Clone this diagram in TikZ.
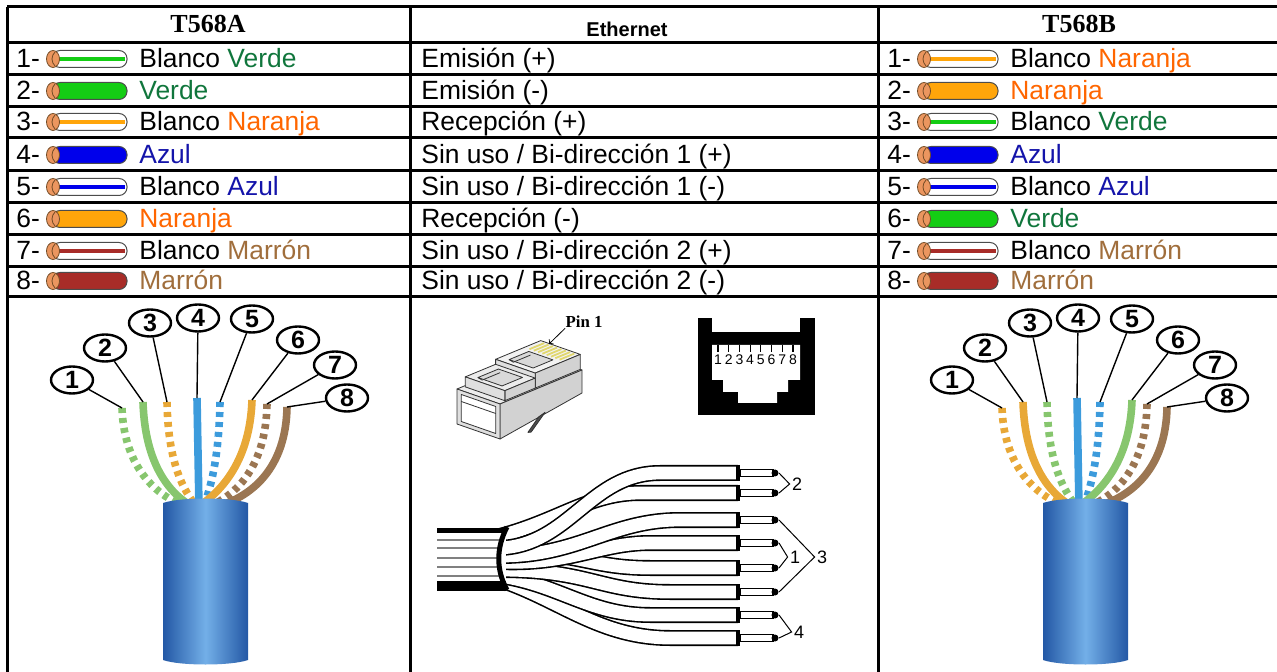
\documentclass[tikz,border=0pt]{standalone}
\usepackage{fontspec}
\setmainfont{Liberation Sans}
\newfontfamily\serifa{Liberation Serif}
\usepackage{tikz}
\usetikzlibrary{shapes.geometric,arrows,calc,positioning}

% colores del texto
\definecolor{verdeT}{RGB}{16,118,60}
\definecolor{naranjaT}{RGB}{255,102,0}
\definecolor{azulT}{RGB}{20,20,170}
\definecolor{marronT}{RGB}{160,110,60}
% colores de los hilos
\definecolor{verdeH}{RGB}{20,205,20}
\definecolor{naranjaH}{RGB}{255,165,10}
\definecolor{azulH}{RGB}{0,0,235}
\definecolor{marronH}{RGB}{168,44,40}
\definecolor{cobreH}{RGB}{235,150,95}
% colores de la foto
\definecolor{fVerde}{RGB}{135,198,110}
\definecolor{fNaranja}{RGB}{232,168,55}
\definecolor{fAzul}{RGB}{60,155,220}
\definecolor{fMarron}{RGB}{155,118,82}
\definecolor{fundaO}{RGB}{35,88,165}
\definecolor{fundaC}{RGB}{115,175,232}
\definecolor{oroC}{RGB}{225,215,110}

\tikzset{
  celda/.style={anchor=base west, inner sep=0pt, font=\fontsize{13.2}{15}\selectfont},
  titulo/.style={inner sep=0pt, font=\serifa\bfseries\fontsize{13}{15}\selectfont},
  tabla/.style={line width=1.5pt},
  hsolido/.style={draw=#1, line width=3.8pt},
  hrayado/.style={draw=white, line width=3.8pt, postaction={draw=#1, line width=3.8pt, dash pattern=on 2.5pt off 2.5pt}},
  etiq/.style={ellipse, draw=black, line width=1.2pt, fill=white, minimum width=21pt, minimum height=13.5pt, inner sep=0pt, font=\bfseries\fontsize{12.5}{12.5}\selectfont},
  guia/.style={line width=0.7pt},
  tubo/.style={draw=black, line width=8pt, postaction={draw=white, line width=6.4pt}},
  plastico/.style={draw=gray!40!black, line width=0.4pt, line join=round},
  par/.style={inner sep=1pt, font=\fontsize{9}{9}\selectfont}
}

% icono de un hilo: x, y, relleno, raya
\newcommand\hilo[4]{%
  \draw[gray!60!black, line width=0.5pt, fill=#3, rounded corners=4pt] (#1+6,#2-8.5) rectangle (#1+81,#2+8.5);
  \fill[#4] (#1+10,#2-1.8) rectangle (#1+79,#2+1.8);
  \draw[brown!60!black, line width=0.4pt, fill=cobreH] (#1+7,#2) ellipse (6.5 and 8.5);
  \draw[brown!60!black, line width=0.4pt] (#1+9,#2-7) .. controls (#1+5,#2-3) and (#1+5,#2+3) .. (#1+9,#2+7);
}

% foto del cable: desplazamiento, color par 2, color par 3, prefijo
\newcommand\cablefoto[4]{%
\begin{scope}[shift={(#1,0)}]
% hilos
\draw[hrayado=#2] (122,408) .. controls (124,470) and (160,500) .. (192,508);
\draw[hrayado=#3] (167,402) .. controls (168,460) and (182,490) .. (198,508);
\draw[hrayado=fAzul] (220,402) .. controls (219,460) and (210,490) .. (203,508);
\draw[hrayado=fMarron] (267,404) .. controls (266,465) and (238,495) .. (206,508);
\draw[hsolido=fMarron] (287,407) .. controls (286,468) and (252,498) .. (212,508);
\draw[hsolido=fAzul] (197,398) -- (199,508);
\draw[hsolido=#2] (143,402) .. controls (145,465) and (170,495) .. (195,508);
\draw[hsolido=#3] (252,400) .. controls (250,460) and (222,492) .. (196,508);
% funda
\shade[left color=fundaO, right color=fundaO, middle color=fundaC] (163,660) -- (163,503) .. controls (180,497) and (231,497) .. (248,503) -- (248,660) .. controls (231,666) and (180,666) .. (163,660) -- cycle;
% numeros
\node[etiq] (#41) at (72,380) {1};
\node[etiq] (#42) at (105,348) {2};
\node[etiq] (#43) at (150,323) {3};
\node[etiq] (#44) at (198,318) {4};
\node[etiq] (#45) at (252,319) {5};
\node[etiq] (#46) at (298,340) {6};
\node[etiq] (#47) at (335,365) {7};
\node[etiq] (#48) at (347,398) {8};
\coordinate (#41h) at (122,408);
\coordinate (#42h) at (143,402);
\coordinate (#43h) at (167,402);
\coordinate (#44h) at (197,398);
\coordinate (#45h) at (220,402);
\coordinate (#46h) at (252,400);
\coordinate (#47h) at (267,404);
\coordinate (#48h) at (287,407);
\foreach \k in {1,...,8} \draw[guia] (#4\k) -- (#4\k h);
\end{scope}}

\begin{document}
\begin{tikzpicture}[x=0.5pt,y=-0.5pt]
\useasboundingbox (0,0) rectangle (1277,672);

% Cabecera
\node[titulo] (hA) at (208,24) {T568A};
\node[inner sep=0pt, font=\bfseries\fontsize{10}{12}\selectfont] (hE) at (627,29) {Ethernet};
\node[titulo] (hB) at (1079,24) {T568B};

% T568A
\node[celda] (a1) at (16,68) {1-};
\hilo{46}{59}{white}{verdeH}
\node[celda] (na1) at (139,68) {Blanco \textcolor{verdeT}{Verde}};
\node[celda] (a2) at (16,100) {2-};
\hilo{46}{91}{verdeH}{verdeH}
\node[celda] (na2) at (139,100) {\textcolor{verdeT}{Verde}};
\node[celda] (a3) at (16,131) {3-};
\hilo{46}{122}{white}{naranjaH}
\node[celda] (na3) at (139,131) {Blanco \textcolor{naranjaT}{Naranja}};
\node[celda] (a4) at (16,164) {4-};
\hilo{46}{155}{azulH}{azulH}
\node[celda] (na4) at (139,164) {\textcolor{azulT}{Azul}};
\node[celda] (a5) at (16,196) {5-};
\hilo{46}{187}{white}{azulH}
\node[celda] (na5) at (139,196) {Blanco \textcolor{azulT}{Azul}};
\node[celda] (a6) at (16,228) {6-};
\hilo{46}{219}{naranjaH}{naranjaH}
\node[celda] (na6) at (139,228) {\textcolor{naranjaT}{Naranja}};
\node[celda] (a7) at (16,260) {7-};
\hilo{46}{251}{white}{marronH}
\node[celda] (na7) at (139,260) {Blanco \textcolor{marronT}{Marrón}};
\node[celda] (a8) at (16,290) {8-};
\hilo{46}{281}{marronH}{marronH}
\node[celda] (na8) at (139,290) {\textcolor{marronT}{Marrón}};

% Ethernet
\node[celda] (e1) at (421,68) {Emisión (+)};
\node[celda] (e2) at (421,100) {Emisión (-)};
\node[celda] (e3) at (421,131) {Recepción (+)};
\node[celda] (e4) at (421,164) {Sin uso / Bi-dirección 1 (+)};
\node[celda] (e5) at (421,196) {Sin uso / Bi-dirección 1 (-)};
\node[celda] (e6) at (421,228) {Recepción (-)};
\node[celda] (e7) at (421,260) {Sin uso / Bi-dirección 2 (+)};
\node[celda] (e8) at (421,290) {Sin uso / Bi-dirección 2 (-)};

% T568B
\node[celda] (b1) at (887,68) {1-};
\hilo{917}{59}{white}{naranjaH}
\node[celda] (nb1) at (1010,68) {Blanco \textcolor{naranjaT}{Naranja}};
\node[celda] (b2) at (887,100) {2-};
\hilo{917}{91}{naranjaH}{naranjaH}
\node[celda] (nb2) at (1010,100) {\textcolor{naranjaT}{Naranja}};
\node[celda] (b3) at (887,131) {3-};
\hilo{917}{122}{white}{verdeH}
\node[celda] (nb3) at (1010,131) {Blanco \textcolor{verdeT}{Verde}};
\node[celda] (b4) at (887,164) {4-};
\hilo{917}{155}{azulH}{azulH}
\node[celda] (nb4) at (1010,164) {\textcolor{azulT}{Azul}};
\node[celda] (b5) at (887,196) {5-};
\hilo{917}{187}{white}{azulH}
\node[celda] (nb5) at (1010,196) {Blanco \textcolor{azulT}{Azul}};
\node[celda] (b6) at (887,228) {6-};
\hilo{917}{219}{verdeH}{verdeH}
\node[celda] (nb6) at (1010,228) {\textcolor{verdeT}{Verde}};
\node[celda] (b7) at (887,260) {7-};
\hilo{917}{251}{white}{marronH}
\node[celda] (nb7) at (1010,260) {Blanco \textcolor{marronT}{Marrón}};
\node[celda] (b8) at (887,290) {8-};
\hilo{917}{281}{marronH}{marronH}
\node[celda] (nb8) at (1010,290) {\textcolor{marronT}{Marrón}};

% Fotos de los cables
\cablefoto{0}{fVerde}{fNaranja}{A}
\cablefoto{880}{fNaranja}{fVerde}{B}

% Conector RJ45
\begin{scope}[shift={(457,389)}, x={(41pt,17pt)}, y={(21.5pt,-7.5pt)}, z={(0pt,0.5pt)}]
\draw[plastico, fill=gray!15] (0,0,0) -- (1,0,0) -- (1,1,0) -- (0,1,0) -- cycle;
\draw[plastico, fill=gray!35] (0,1,0) -- (1,1,0) -- (1,1,-23) -- (0,1,-35) -- cycle;
\draw[plastico, fill=gray!25] (0,0,0) -- (0,1,0) -- (0,1,-35) -- (0,0,-35) -- cycle;
\draw[plastico, fill=white] (0,0.1,-4) -- (0,0.9,-4) -- (0,0.9,-31) -- (0,0.1,-31) -- cycle;
\draw[plastico] (0,0.1,-11) -- (0,0.9,-11);
% bloque delantero
\draw[plastico, fill=gray!10] (0.45,0.04,15) -- (1,0.04,15) -- (1,0.96,15) -- (0.45,0.96,15) -- cycle;
\draw[plastico, fill=gray!35] (0.45,0.96,0) -- (1,0.96,0) -- (1,0.96,15) -- (0.45,0.96,15) -- cycle;
\draw[plastico, fill=gray!25] (0.45,0.04,0) -- (0.45,0.96,0) -- (0.45,0.96,15) -- (0.45,0.04,15) -- cycle;
\draw[plastico, fill=gray!30] (0.52,0.22,15) -- (0.76,0.22,15) -- (0.76,0.78,15) -- (0.52,0.78,15) -- cycle;
\draw[plastico] (0.52,0.22,15) -- (0.55,0.26,12) -- (0.76,0.26,12);
\foreach \k in {0,...,7} \draw[oroC, line width=0.9pt] (0.8,0.16+\k*0.1,15) -- (0.98,0.16+\k*0.1,15);
% pestaña
\draw[plastico, fill=gray!15] (0.08,0.04,10) -- (0.45,0.04,10) -- (0.45,0.96,10) -- (0.08,0.96,10) -- cycle;
\draw[plastico, fill=gray!35] (0.08,0.96,0) -- (0.45,0.96,0) -- (0.45,0.96,10) -- (0.08,0.96,10) -- cycle;
\draw[plastico, fill=gray!25] (0.08,0.04,0) -- (0.08,0.96,0) -- (0.08,0.96,10) -- (0.08,0.04,10) -- cycle;
\draw[plastico, fill=gray!30] (0.14,0.22,10) -- (0.39,0.22,10) -- (0.39,0.78,10) -- (0.14,0.78,10) -- cycle;
\draw[plastico] (0.14,0.22,10) -- (0.17,0.26,7) -- (0.39,0.26,7);
\draw[plastico, fill=gray!60!black] (0.55,1,-27) -- (0.47,1,-29) -- (0.34,1,-40) -- (0.38,1,-41) -- cycle;
\end{scope}
\node[inner sep=0pt, font=\serifa\bfseries\fontsize{8.4}{9}\selectfont] (pin) at (584,322) {Pin 1};
\coordinate (pin1) at (549,344);
\draw[->, line width=0.4pt] (pin.south west) -- (pin1);

% Jack RJ45
\fill[black] (698,318) rectangle (815,415);
\fill[white] (712,318) rectangle (800,332);
\fill[white] (712,345) -- (800,345) -- (800,380) -- (788,380) -- (788,392) -- (777,392) -- (777,403) -- (738,403) -- (738,392) -- (723,392) -- (723,380) -- (712,380) -- cycle;
\foreach \k in {1,...,8} {
  \draw[line width=0.6pt] (718+10.7*\k-10.7,345) -- (718+10.7*\k-10.7,352);
  \node[inner sep=0pt, font=\fontsize{7}{7}\selectfont] (pn\k) at (718+10.7*\k-10.7,360) {\k};
}

% Pares trenzados
\draw[tubo] (500,580) .. controls (560,600) and (600,638) .. (670,638) -- (738,638);
\draw[tubo] (500,576) .. controls (560,585) and (590,615) .. (650,615) -- (738,615);
\draw[tubo] (500,570) .. controls (590,570) and (600,592) .. (670,592) -- (738,592);
\draw[tubo] (500,552) .. controls (580,552) and (590,568) .. (650,568) -- (738,568);
\draw[tubo] (500,562) .. controls (570,565) and (600,543) .. (650,543) -- (738,543);
\draw[tubo] (500,556) .. controls (580,556) and (610,520) .. (680,520) -- (738,520);
\draw[tubo] (500,536) .. controls (560,520) and (590,493) .. (640,493) -- (738,493);
\draw[tubo] (500,548) .. controls (570,545) and (590,473) .. (660,473) -- (738,473);
\foreach \n/\y in {2a/473,2b/493,3a/520,1a/543,1b/568,3b/592,4a/615,4b/638} {
  \draw[line width=4pt] (738,\y) -- (774,\y);
  \draw[white, line width=2.8pt] (741,\y) -- (772,\y);
  \fill (775,\y) circle (3.5);
  \draw[line width=2pt] (738,\y-8) -- (738,\y+8);
  \coordinate (k\n) at (779,\y);
}
% funda
\fill[white] (437,529) rectangle (506,588);
\foreach \y in {540,548,558,567,576} \draw[gray, line width=0.8pt] (437,\y) -- (500,\y);
\draw[line width=2.5pt] (437,530) -- (506,530);
\draw[line width=5pt] (437,586) -- (506,586);
\draw[line width=2.5pt] (507,527) .. controls (496,548) and (496,570) .. (507,590);
% numeros de par
\node[par] (p2) at (797,484) {2};
\node[par] (p1) at (795,557) {1};
\node[par] (p3) at (822,557) {3};
\node[par] (p4) at (799,632) {4};
\draw[line width=0.5pt] (k2a) -- (p2.west) -- (k2b);
\draw[line width=0.5pt] (k1a) -- (p1.west) -- (k1b);
\draw[line width=0.5pt] (k3a) -- (p3.west) -- (k3b);
\draw[line width=0.5pt] (k4a) -- (p4.west) -- (k4b);

% Tabla
\foreach \y in {7,43,75,107,138,171,203,235,267,297} \draw[tabla] (7,\y) -- (1277,\y);
\foreach \x in {7,410,878} \draw[tabla] (\x,7) -- (\x,672);
\end{tikzpicture}
\end{document}
